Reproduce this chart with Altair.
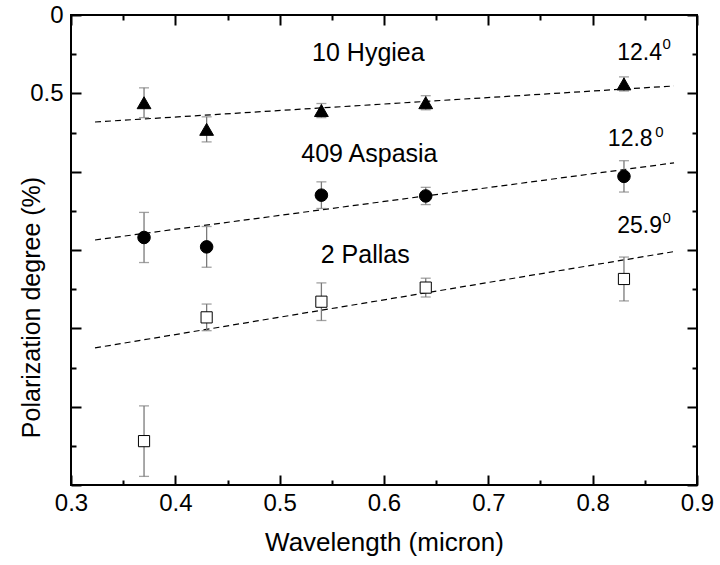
import altair as alt
import pandas as pd

# ---- data ----
wavelength = [0.37, 0.43, 0.54, 0.64, 0.83]
hygiea = [0.56, 0.73, 0.61, 0.56, 0.44]
hygiea_err = [0.095, 0.08, 0.045, 0.045, 0.045]
aspasia = [1.42, 1.48, 1.15, 1.155, 1.03]
aspasia_err = [0.16, 0.13, 0.085, 0.055, 0.10]
pallas = [2.72, 1.93, 1.83, 1.74, 1.685]
pallas_err = [0.225, 0.085, 0.12, 0.06, 0.14]

fit_x = [0.323, 0.878]
hygiea_fit = [0.683, 0.453]
aspasia_fit = [1.436, 0.944]
pallas_fit = [2.125, 1.51]

names = ["10 Hygiea", "409 Aspasia", "2 Pallas"]
name_x = [0.585, 0.586, 0.582]
name_y = [0.294, 0.938, 1.583]
phase = ["12.4", "12.8", "25.9"]
phase_x = [0.845, 0.836, 0.845]
phase_y = [0.287, 0.836, 1.391]
sup = ["0", "0", "0"]
sup_x = [0.867, 0.860, 0.867]
sup_y = [0.217, 0.779, 1.327]

x_major = [0.3, 0.4, 0.5, 0.6, 0.7, 0.8, 0.9]
x_minor = [0.35, 0.45, 0.55, 0.65, 0.75, 0.85]
y_major = [0, 0.5, 1.0, 1.5, 2.0, 2.5, 3.0]
y_minor = [0.25, 0.75, 1.25, 1.75, 2.25, 2.75]

# ---- tables ----
rows = []
for sname, vals, errs in [("10 Hygiea", hygiea, hygiea_err),
                          ("409 Aspasia", aspasia, aspasia_err),
                          ("2 Pallas", pallas, pallas_err)]:
    for w, v, e in zip(wavelength, vals, errs):
        rows.append({"series": sname, "x": w, "y": v, "lo": v - e, "hi": v + e})
pts = pd.DataFrame(rows)

fit_rows = []
for sname, fy in [("10 Hygiea", hygiea_fit), ("409 Aspasia", aspasia_fit), ("2 Pallas", pallas_fit)]:
    for fx, v in zip(fit_x, fy):
        fit_rows.append({"series": sname, "x": fx, "y": v})
fit = pd.DataFrame(fit_rows)

lab = pd.DataFrame({"t": names, "x": name_x, "y": name_y})
ph = pd.DataFrame({"t": phase, "x": phase_x, "y": phase_y})
sp = pd.DataFrame({"t": sup, "x": sup_x, "y": sup_y})

FONT = "Liberation Sans"
xs = alt.Scale(domain=[0.3, 0.9], nice=False, zero=False)
ys = alt.Scale(domain=[0, 3], reverse=True, nice=False, zero=False)

MAJ, MIN = 10, 5


def xaxis(orient, major):
    kw = dict(orient=orient, grid=False, domain=False,
              values=x_major if major else x_minor,
              tickSize=MAJ if major else MIN, offset=-(MAJ if major else MIN),
              tickColor="black", tickWidth=2)
    if major and orient == "bottom":
        kw.update(labels=True, labelFont=FONT, labelFontSize=24, labelColor="black",
                  labelPadding=6, labelFlush=False, format=".1f",
                  title="Wavelength (micron)", titleFont=FONT, titleFontSize=26,
                  titleFontWeight="normal", titleColor="black", titlePadding=14)
    else:
        kw.update(labels=False, title=None)
    return alt.Axis(**kw)


def yaxis(orient, major):
    kw = dict(orient=orient, grid=False, domain=False,
              values=y_major if major else y_minor,
              tickSize=MAJ if major else MIN, offset=-(MAJ if major else MIN),
              tickColor="black", tickWidth=2)
    if major and orient == "left":
        kw.update(labels=True, labelFont=FONT, labelFontSize=24, labelColor="black",
                  labelPadding=8, labelFlush=False,
                  labelExpr="datum.value == 0 ? '0' : (datum.value == 0.5 ? '0.5' : '')",
                  title="Polarization degree (%)", titleFont=FONT, titleFontSize=25,
                  titleFontWeight="normal", titleColor="black",
                  titleX=-50, titleY=292, titleAlign="center", titleBaseline="middle",
                  titleAngle=270)
    else:
        kw.update(labels=False, title=None)
    return alt.Axis(**kw)


lines = alt.Chart(fit).mark_line(color="black", strokeWidth=1.2, strokeDash=[6, 4]).encode(
    x=alt.X("x:Q", scale=xs, axis=xaxis("bottom", True)),
    y=alt.Y("y:Q", scale=ys, axis=yaxis("left", True)),
    detail="series:N",
)

bars = alt.Chart(pts).mark_rule(color="#7a7a7a", strokeWidth=1.3).encode(
    x=alt.X("x:Q", scale=xs, axis=xaxis("bottom", False)),
    y=alt.Y("lo:Q", scale=ys, axis=yaxis("left", False)),
    y2="hi:Q",
)

caps_lo = alt.Chart(pts).mark_tick(color="#7a7a7a", orient="horizontal", size=10, thickness=1.3).encode(
    x=alt.X("x:Q", scale=xs, axis=xaxis("top", True)),
    y=alt.Y("lo:Q", scale=ys, axis=yaxis("right", True)),
)

caps_hi = alt.Chart(pts).mark_tick(color="#7a7a7a", orient="horizontal", size=10, thickness=1.3).encode(
    x=alt.X("x:Q", scale=xs, axis=xaxis("top", False)),
    y=alt.Y("hi:Q", scale=ys, axis=yaxis("right", False)),
)

points = alt.Chart(pts).mark_point(opacity=1, stroke="black", strokeWidth=1).encode(
    x=alt.X("x:Q", scale=xs, axis=None),
    y=alt.Y("y:Q", scale=ys, axis=None),
    shape=alt.Shape("series:N", legend=None,
                    scale=alt.Scale(domain=names, range=["triangle-up", "circle", "square"])),
    fill=alt.Fill("series:N", legend=None,
                  scale=alt.Scale(domain=names, range=["black", "black", "white"])),
    size=alt.Size("series:N", legend=None,
                  scale=alt.Scale(domain=names, range=[190, 125, 110])),
)

name_text = alt.Chart(lab).mark_text(font=FONT, fontSize=25, align="center",
                                     baseline="alphabetic", color="black").encode(
    x=alt.X("x:Q", scale=xs, axis=None), y=alt.Y("y:Q", scale=ys, axis=None), text="t:N")

phase_text = alt.Chart(ph).mark_text(font=FONT, fontSize=23, align="center",
                                     baseline="alphabetic", color="black").encode(
    x=alt.X("x:Q", scale=xs, axis=None), y=alt.Y("y:Q", scale=ys, axis=None), text="t:N")

sup_text = alt.Chart(sp).mark_text(font=FONT, fontSize=15, align="left",
                                   baseline="alphabetic", color="black").encode(
    x=alt.X("x:Q", scale=xs, axis=None), y=alt.Y("y:Q", scale=ys, axis=None), text="t:N")

chart = alt.layer(lines, bars, caps_lo, caps_hi, points, name_text, phase_text, sup_text).resolve_axis(
    x="independent", y="independent"
).properties(
    width=626, height=470,
    autosize=alt.AutoSizeParams(type="none"),
    padding={"left": 71, "top": 15, "right": 23, "bottom": 80},
    background="white",
).configure_view(stroke="black", strokeWidth=2)

chart.save("out.html", embed_options={"renderer": "svg", "actions": False})
